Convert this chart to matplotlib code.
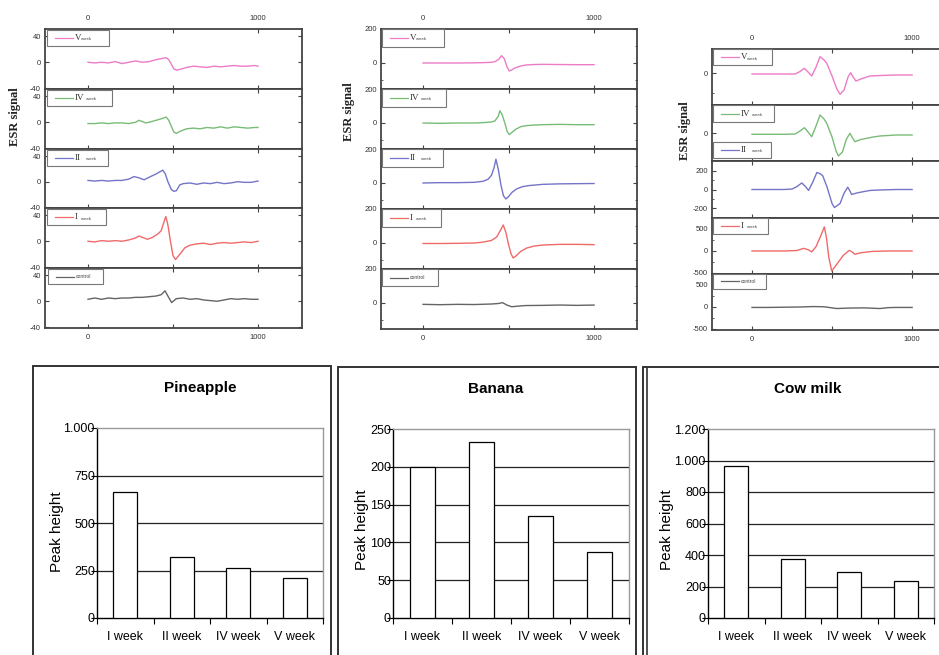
import matplotlib
matplotlib.use('Agg')
import matplotlib.pyplot as plt
from matplotlib.patches import Rectangle
from matplotlib.lines import Line2D

plt.rcParams['font.family'] = ['Liberation Sans', 'DejaVu Sans']

W, H = 939, 655

# ---------------- data ----------------
trace_labels = ["V week", "IV week", "II week", "I week", "control"]
trace_colors = ["#ec7cc6", "#78bc78", "#7474c8", "#f06a6a", "#646464"]

# Pineapple ESR spectra
pine_V_x = [0,40,80,120,160,200,240,280,320,360,400,440,460,475,490,505,520,540,580,620,660,700,740,780,820,860,900,940,980,1000]
pine_V_y = [0,-1,0,-1,1,-2,0,2,0,1,4,6,7,4,-3,-10,-12,-11,-8,-6,-7,-8,-6,-7,-6,-5,-6,-6,-5,-6]
pine_IV_x = [0,40,80,120,160,200,240,280,300,320,340,360,400,440,460,475,490,505,520,540,580,620,660,700,740,780,820,860,900,940,980,1000]
pine_IV_y = [-2,-2,-1,-2,-1,-1,-2,0,3,1,-1,0,3,6,8,3,-6,-15,-17,-14,-10,-9,-10,-8,-9,-7,-9,-7,-8,-9,-8,-8]
pine_II_x = [0,40,80,120,160,200,240,270,300,330,360,400,420,440,455,470,490,505,520,540,560,600,640,680,720,760,800,840,880,920,960,1000]
pine_II_y = [2,1,2,1,2,2,4,8,6,3,7,12,15,18,12,0,-12,-15,-14,-5,-3,-2,-4,-2,-3,-1,-3,-2,0,-1,-1,1]
pine_I_x = [0,40,80,120,160,200,240,280,300,320,350,380,410,430,445,458,470,485,500,515,540,570,600,640,680,720,760,800,840,880,920,960,1000]
pine_I_y = [0,-1,1,0,1,0,2,5,8,6,3,6,11,16,28,38,25,0,-22,-28,-20,-10,-6,-4,-3,-5,-3,-2,-3,-2,-1,-2,0]
pine_C_x = [0,40,80,120,160,200,240,280,320,360,400,430,453,470,492,520,560,600,640,680,720,760,800,840,880,920,960,1000]
pine_C_y = [3,5,3,5,4,5,5,6,6,7,8,10,16,8,-2,4,5,3,4,2,1,0,2,4,3,4,3,3]

# Banana ESR spectra
ban_V_x = [0,100,200,300,350,400,420,440,459,475,490,504,520,540,570,600,650,700,800,900,1000]
ban_V_y = [0,0,0,1,2,4,8,20,43,25,-20,-47,-40,-28,-18,-12,-9,-8,-9,-10,-10]
ban_IV_x = [0,100,200,300,350,400,420,440,449,462,478,492,504,520,540,570,600,650,700,800,900,1000]
ban_IV_y = [0,-2,0,0,2,6,12,40,72,50,0,-50,-68,-55,-38,-22,-16,-12,-10,-8,-10,-10]
ban_II_x = [0,100,200,300,350,380,400,415,426,440,455,470,484,500,520,547,580,620,700,800,900,1000]
ban_II_y = [0,2,2,4,10,22,45,90,140,80,-10,-75,-94,-80,-55,-35,-22,-15,-8,-5,-4,-3]
ban_I_x = [0,100,200,300,350,400,430,450,469,485,500,515,527,545,570,605,650,700,800,900,1000]
ban_I_y = [-3,-3,-2,0,5,15,35,70,106,60,-10,-65,-88,-75,-50,-30,-18,-12,-8,-8,-10]
ban_C_x = [0,100,200,300,400,440,465,490,518,560,600,700,800,900,1000]
ban_C_y = [-8,-10,-8,-9,-6,-3,2,-12,-22,-18,-15,-14,-12,-14,-12]

# Cow milk ESR spectra
cow_V_x = [0,100,200,270,300,326,350,373,400,425,450,467,500,530,550,575,600,616,632,649,680,737,800,900,1000]
cow_V_y = [-10,-10,-10,-10,15,47,10,-30,60,163,130,97,-30,-160,-213,-170,-40,3,-40,-80,-60,-30,-25,-20,-20]
cow_IV_x = [0,100,200,270,300,328,350,373,400,425,450,467,500,525,540,565,590,612,628,643,680,757,800,900,1000]
cow_IV_y = [-13,-13,-13,-10,20,53,10,-37,70,180,140,97,-40,-180,-230,-190,-60,-3,-50,-87,-65,-40,-30,-20,-20]
cow_II_x = [0,100,200,250,280,311,335,353,380,405,425,442,470,500,515,550,575,598,610,622,660,737,800,900,1000]
cow_II_y = [0,0,0,5,30,70,30,-10,80,182,170,147,20,-150,-193,-150,-40,25,-10,-53,-35,-10,-5,0,0]
cow_I_x = [0,100,200,280,322,350,373,400,430,452,465,480,498,530,570,608,625,643,680,750,850,1000]
cow_I_y = [0,0,0,10,60,30,-20,100,350,547,300,-150,-454,-300,-100,15,-20,-75,-40,-10,0,0]
cow_C_x = [0,100,200,300,384,450,529,600,700,799,850,900,1000]
cow_C_y = [-10,-10,-5,0,10,5,-35,-25,-20,-35,-15,-10,-10]

# Peak height bar charts
bar_categories = ["I week", "II week", "IV week", "V week"]
pineapple_peak = [663, 321, 263, 210]
banana_peak = [200, 233, 135, 87]
cowmilk_peak = [965, 375, 292, 235]
bar_titles = ["Pineapple", "Banana", "Cow milk"]

pine_yticks = [0, 250, 500, 750, 1000]
pine_ylabels = ["0", "250", "500", "750", "1.000"]
ban_yticks = [0, 50, 100, 150, 200, 250]
ban_ylabels = ["0", "50", "100", "150", "200", "250"]
cow_yticks = [0, 200, 400, 600, 800, 1000, 1200]
cow_ylabels = ["0", "200", "400", "600", "800", "1.000", "1.200"]

# ---------------- figure ----------------
fig = plt.figure(figsize=(W / 100, H / 100), dpi=100)


def px_rect(x0, y0, x1, y1):
    return [x0 / W, 1 - y1 / H, (x1 - x0) / W, (y1 - y0) / H]


def fx(x):
    return x / W


def fy(y):
    return 1 - y / H


esr_panels = [
    dict(x0=45, x1=302, bounds=[29, 89, 149, 208, 268, 328], xlim=(-253, 1259),
         traces=[(pine_V_x, pine_V_y), (pine_IV_x, pine_IV_y), (pine_II_x, pine_II_y),
                 (pine_I_x, pine_I_y), (pine_C_x, pine_C_y)],
         ylims=[(-41, 51)] * 5, major=[[-40, 0, 40]] * 5, minor=[[]] * 5,
         boxes=[(47, 30, 109, 46), (47, 90, 112, 106), (47, 150, 108, 166),
                (47, 209, 106, 225), (48, 269, 103, 284)],
         label=(15, 117)),
    dict(x0=381, x1=637, bounds=[29, 89, 149, 209, 269, 329], xlim=(-246, 1251),
         traces=[(ban_V_x, ban_V_y), (ban_IV_x, ban_IV_y), (ban_II_x, ban_II_y),
                 (ban_I_x, ban_I_y), (ban_C_x, ban_C_y)],
         ylims=[(-153, 200)] * 5, major=[[0, 200]] * 5, minor=[[-100, 100]] * 5,
         boxes=[(382, 29, 444, 47), (382, 89, 446, 107), (382, 149, 443, 167),
                (382, 209, 441, 227), (382, 269, 438, 286)],
         label=(349, 112)),
    dict(x0=712, x1=954, bounds=[49, 105, 161, 218, 274, 330], xlim=(-250, 1262),
         traces=[(cow_V_x, cow_V_y), (cow_IV_x, cow_IV_y), (cow_II_x, cow_II_y),
                 (cow_I_x, cow_I_y), (cow_C_x, cow_C_y)],
         ylims=[(-320, 240), (-280, 280), (-305, 305), (-523, 750), (-523, 750)],
         major=[[0], [0], [-200, 0, 200], [-500, 0, 500], [-500, 0, 500]],
         minor=[[-200, 200], [-200, 200], [-100, 100], [-250, 250], [-250, 250]],
         boxes=[(713, 49, 772, 65), (713, 105, 774, 122), (713, 142, 771, 158),
                (713, 218, 768, 234), (713, 274, 766, 289)],
         label=(685, 131)),
]

small_font = ['Liberation Sans Narrow', 'Liberation Sans', 'DejaVu Sans']

for p in esr_panels:
    b = p['bounds']
    for i in range(5):
        ax = fig.add_axes(px_rect(p['x0'], b[i], p['x1'], b[i + 1]))
        xs, ys = p['traces'][i]
        ax.plot(xs, ys, color=trace_colors[i], lw=1.0)
        ax.set_xlim(*p['xlim'])
        ax.set_ylim(*p['ylims'][i])
        ax.set_xticks([0, 500, 1000])
        ax.set_xticklabels(['0', '', '1000'])
        ax.set_yticks(p['major'][i])
        ax.set_yticks(p['minor'][i], minor=True)
        ax.set_yticklabels([str(v) for v in p['major'][i]])
        ax.tick_params(axis='both', which='both', direction='in', top=True, right=True,
                       color='#444', labelsize=5.5, labelcolor='#333')
        ax.tick_params(axis='both', which='major', length=3, width=0.8)
        ax.tick_params(axis='both', which='minor', length=1.6, width=0.6)
        ax.tick_params(axis='y', pad=3)
        ax.tick_params(axis='x', labelbottom=(i == 4), labeltop=(i == 0))
        if i == 0:
            ax.tick_params(axis='x', pad=5)
        else:
            ax.tick_params(axis='x', pad=4)
        for lab in ax.get_xticklabels() + ax.get_yticklabels():
            lab.set_family(small_font)
        for s in ax.spines.values():
            s.set_color('#444')
            s.set_linewidth(1.3)
        # legend box
        bx0, by0, bx1, by1 = p['boxes'][i]
        fig.add_artist(Rectangle((fx(bx0), fy(by1)), (bx1 - bx0) / W, (by1 - by0) / H,
                                 transform=fig.transFigure, facecolor='white',
                                 edgecolor='#777', lw=0.8, zorder=5))
        ym = fy((by0 + by1) / 2)
        fig.add_artist(Line2D([fx(bx0 + 8), fx(bx0 + 26)], [ym, ym], transform=fig.transFigure,
                              color=trace_colors[i], lw=0.9, zorder=6))
        lab = trace_labels[i]
        if lab.endswith(' week'):
            num = lab.split(' ')[0]
            fig.text(fx(bx0 + 28), ym, num, fontsize=6.5, va='center', ha='left',
                     color='#333', family=['Liberation Serif', 'DejaVu Serif'], zorder=7)
            fig.text(fx(bx0 + 28 + 4.6 * len(num) + 1.5), ym - 1.5 / H, 'week', fontsize=3.2,
                     va='center', ha='left', color='#444', zorder=7)
        else:
            fig.text(fx(bx0 + 28), ym, lab, fontsize=3.6, va='center', ha='left',
                     color='#444', zorder=7)
    lx, ly = p['label']
    fig.text(fx(lx), fy(ly), 'ESR signal', rotation=90, ha='center', va='center',
             fontsize=9, fontweight='bold', family=['Liberation Serif', 'DejaVu Serif'],
             color='#222')

# ---------------- bar charts ----------------
bar_panels = [
    dict(rect=(97, 428, 323, 618), vals=pineapple_peak, ymax=1000, ticks=pine_yticks,
         labels=pine_ylabels, title=(200, 388), ylab=(57, 532)),
    dict(rect=(393, 429, 629, 618), vals=banana_peak, ymax=250, ticks=ban_yticks,
         labels=ban_ylabels, title=(496, 389), ylab=(362, 530)),
    dict(rect=(708, 429, 934, 618), vals=cowmilk_peak, ymax=1200, ticks=cow_yticks,
         labels=cow_ylabels, title=(808, 389), ylab=(667, 530)),
]

# outer frames
for (x0, y0, x1) in [(33, 366, 331), (338, 367, 636), (643, 367, 1000)]:
    fig.add_artist(Rectangle((fx(x0), fy(700)), (x1 - x0) / W, (700 - y0) / H,
                             transform=fig.transFigure, fill=False, edgecolor='#333',
                             lw=1.4, zorder=2))
fig.add_artist(Line2D([fx(647), fx(647)], [fy(368), 0], transform=fig.transFigure,
                      color='#333', lw=1.2, zorder=2))

for k, bp in enumerate(bar_panels):
    ax = fig.add_axes(px_rect(*bp['rect']))
    ax.set_xlim(-0.5, 3.5)
    ax.set_ylim(0, bp['ymax'])
    for t in bp['ticks'][1:-1]:
        ax.axhline(t, color='#222', lw=0.9, zorder=1)
    ax.bar(range(len(bar_categories)), bp['vals'], width=0.42, color='white',
           edgecolor='black', linewidth=0.9, zorder=3)
    ax.set_yticks(bp['ticks'])
    ax.set_yticklabels(bp['labels'])
    ax.tick_params(axis='y', direction='out', length=4, pad=-2.5, labelsize=9, width=0.8)
    ax.set_xticks([-0.5, 0.5, 1.5, 2.5, 3.5])
    ax.set_xticklabels([])
    ax.tick_params(axis='x', which='major', direction='out', length=4, width=0.8)
    ax.set_xticks(range(len(bar_categories)), minor=True)
    ax.set_xticklabels(bar_categories, minor=True)
    ax.tick_params(axis='x', which='minor', length=0, pad=9.5, labelsize=9)
    ax.spines['top'].set_color('#999')
    ax.spines['right'].set_color('#999')
    ax.spines['left'].set_color('#000')
    ax.spines['bottom'].set_color('#000')
    for s in ax.spines.values():
        s.set_linewidth(1.0)
    tx, ty = bp['title']
    fig.text(fx(tx), fy(ty), bar_titles[k], ha='center', va='center', fontsize=11,
             fontweight='bold')
    lx, ly = bp['ylab']
    fig.text(fx(lx), fy(ly), 'Peak height', rotation=90, ha='center', va='center',
             fontsize=11)

fig.savefig('out.png', dpi=100)
